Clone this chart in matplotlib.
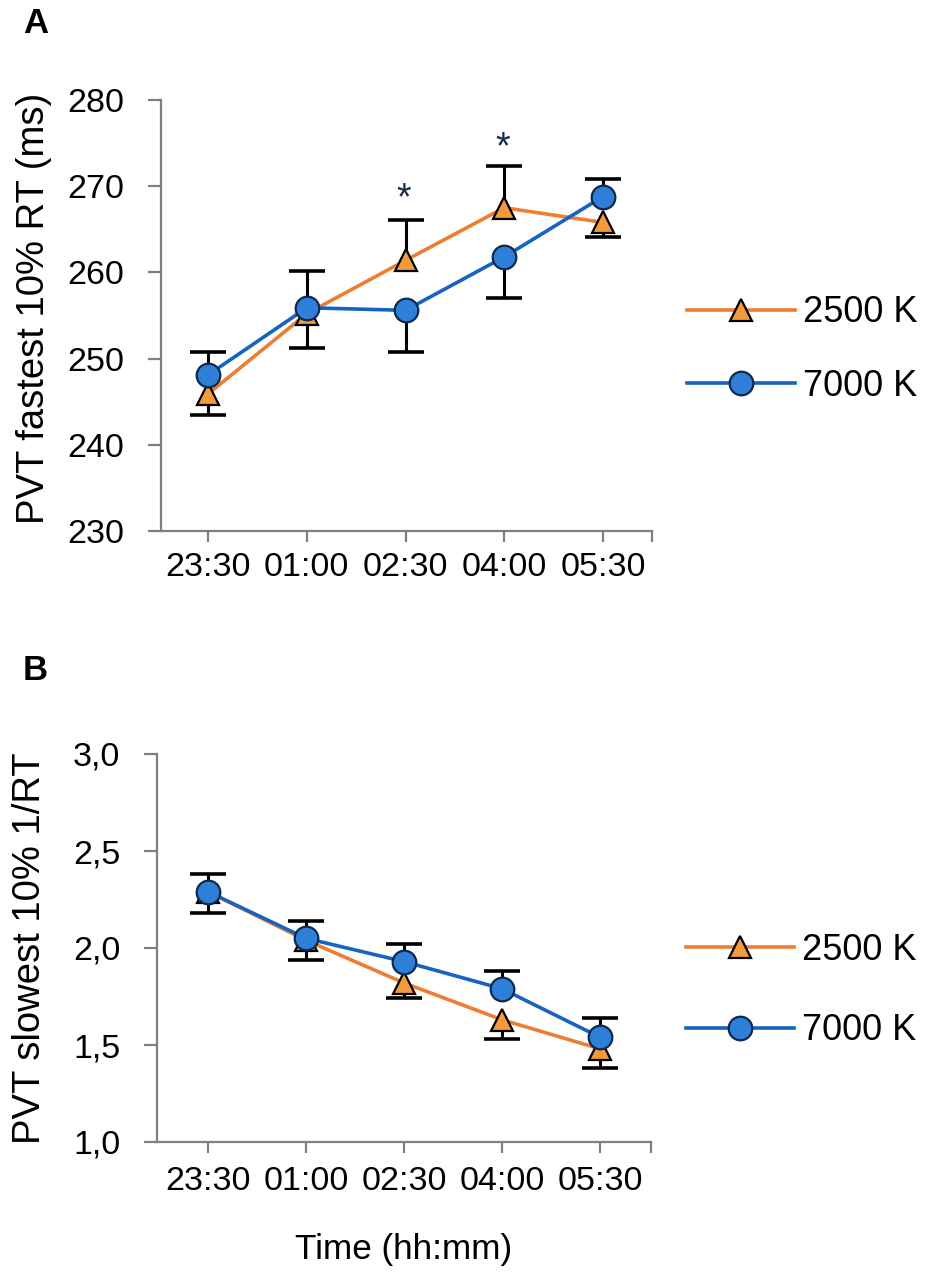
import matplotlib.pyplot as plt
import numpy as np

plt.rcParams['font.family'] = ['Liberation Sans', 'DejaVu Sans']

times = ['23:30', '01:00', '02:30', '04:00', '05:30']
series = ['2500 K', '7000 K']

# panel A: PVT fastest 10% RT (ms)
fast_2500 = [245.9, 255.2, 261.4, 267.5, 265.8]
fast_2500_lo = [2.5, 4.0, 0, 0, 1.7]
fast_2500_hi = [0, 0, 4.7, 4.8, 0]
fast_7000 = [248.1, 255.9, 255.6, 261.8, 268.8]
fast_7000_lo = [0, 0, 4.8, 4.8, 0]
fast_7000_hi = [2.7, 4.3, 0, 0, 2.0]
fast_sig = [2, 3]
fast_sig_y = [269.2, 275.2]
fast_ticks = [230, 240, 250, 260, 270, 280]

# panel B: PVT slowest 10% 1/RT
slow_2500 = [2.29, 2.04, 1.82, 1.63, 1.48]
slow_2500_lo = [0.11, 0.10, 0.08, 0.10, 0.10]
slow_2500_hi = [0, 0, 0, 0, 0]
slow_7000 = [2.29, 2.05, 1.93, 1.79, 1.54]
slow_7000_lo = [0, 0, 0, 0, 0]
slow_7000_hi = [0.09, 0.09, 0.09, 0.09, 0.10]
slow_ticks = [1.0, 1.5, 2.0, 2.5, 3.0]
slow_ticklabels = ['1,0', '1,5', '2,0', '2,5', '3,0']

orange_line = '#ED7D31'
orange_fill = '#F39A3C'
blue_line = '#1763C2'
blue_fill = '#2F7FD8'
grey = '#7f7f7f'
fs_tick = 24.5
fs_leg = 26
fs_lab = 27.5

fig = plt.figure(figsize=(9.32, 12.74), dpi=100)
ax_a = fig.add_axes([161/932, 1-531/1274, 491/932, 431/1274])
ax_b = fig.add_axes([157/932, 1-1142/1274, 494/932, 388/1274])


def err_bars(ax, x, y, lo, hi):
    x = np.asarray(x, float)
    y = np.asarray(y, float)
    for err, sign in [(np.asarray(lo, float), -1), (np.asarray(hi, float), 1)]:
        m = err > 0
        if not m.any():
            continue
        ends = y[m] + sign * err[m]
        ax.vlines(x[m], y[m], ends, color='black', lw=2.2, zorder=2)
        ax.plot(x[m], ends, ls='none', marker='_', ms=26, mew=2.6, color='black', zorder=2)


def draw(ax, d1, lo1, hi1, d2, lo2, hi2, xlim, ylim, yticks, ylabels, leg_y, leg_sp, xpad):
    x = np.arange(len(times))
    err_bars(ax, x, d1, lo1, hi1)
    err_bars(ax, x, d2, lo2, hi2)
    ax.plot(x, d1, color=orange_line, lw=2.6, marker='^', ms=16, mfc=orange_fill,
            mec='black', mew=1.6, label=series[0], zorder=3)
    ax.plot(x, d2, color=blue_line, lw=2.6, marker='o', ms=17, mfc=blue_fill,
            mec='#0d2a4a', mew=1.6, label=series[1], zorder=4)
    ax.set_xlim(*xlim)
    ax.set_ylim(*ylim)
    ax.set_xticks(x)
    ax.set_xticklabels(times)
    ax.set_xticks([xlim[1]], minor=True)
    ax.set_yticks(yticks)
    ax.set_yticklabels(ylabels)
    for s in ['top', 'right']:
        ax.spines[s].set_visible(False)
    for s in ['left', 'bottom']:
        ax.spines[s].set_color(grey)
        ax.spines[s].set_linewidth(1.6)
    ax.tick_params(axis='y', length=9.5, width=1.6, color=grey, pad=17, labelsize=fs_tick)
    ax.tick_params(axis='x', which='both', length=8, width=1.6, color=grey, pad=xpad, labelsize=fs_tick)
    ax.legend(loc='center left', bbox_to_anchor=(1.071, leg_y), frameon=False, fontsize=fs_leg,
              handlelength=3.0, handletextpad=0.22, labelspacing=leg_sp,
              borderpad=0, borderaxespad=0, numpoints=1)


draw(ax_a, fast_2500, fast_2500_lo, fast_2500_hi, fast_7000, fast_7000_lo, fast_7000_hi,
     (-0.476, 4.496), (230, 280), fast_ticks, [str(t) for t in fast_ticks], 0.421, 1.06, 7)
draw(ax_b, slow_2500, slow_2500_lo, slow_2500_hi, slow_7000, slow_7000_lo, slow_7000_hi,
     (-0.52, 4.52), (1.0, 3.0), slow_ticks, slow_ticklabels, 0.39, 1.25, 9)

for xi, yi in zip(fast_sig, fast_sig_y):
    ax_a.annotate('*', xy=(xi, yi), xytext=(-1, -12), textcoords='offset points',
                  ha='center', va='baseline', fontsize=27, color='#1b2a48')

fig.text(34/932, 1-308/1274, 'PVT fastest 10% RT (ms)', rotation=90, ha='center', va='center', fontsize=fs_lab)
fig.text(30/932, 1-948/1274, 'PVT slowest 10% 1/RT', rotation=90, ha='center', va='center', fontsize=fs_lab)
fig.text(404/932, 1-1250/1274, 'Time (hh:mm)', ha='center', va='center', fontsize=25.3)
fig.text(23/932, 1-33/1274, 'A', ha='left', va='baseline', fontsize=25, weight='bold')
fig.text(23/932, 1-680/1274, 'B', ha='left', va='baseline', fontsize=25, weight='bold')

fig.savefig('out.png', dpi=100)
